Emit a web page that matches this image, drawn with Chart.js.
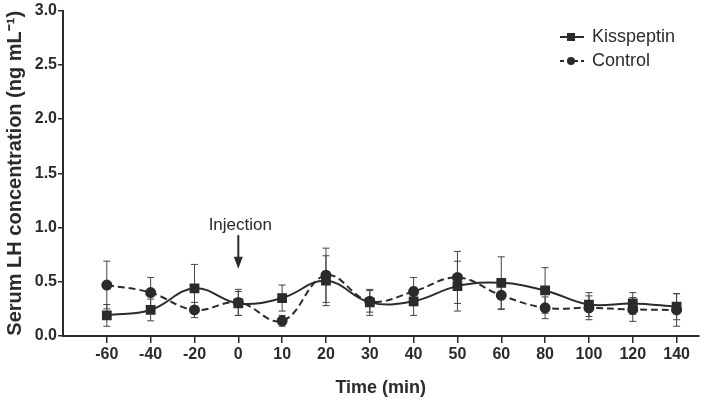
<!DOCTYPE html>
<html>
<head>
<meta charset="utf-8">
<script src="https://cdn.jsdelivr.net/npm/chart.js@4"></script>
<style>
  html, body { margin: 0; padding: 0; background: #fff; }
  #wrap { width: 706px; height: 404px; }
</style>
</head>
<body>
<div id="wrap"><canvas id="lhChart" width="706" height="404"></canvas></div>
<script>
const timeLabels = ["-60", "-40", "-20", "0", "10", "20", "30", "40", "50", "60", "80", "100", "120", "140"];
const kisspeptin = [0.19, 0.24, 0.44, 0.30, 0.35, 0.51, 0.31, 0.32, 0.46, 0.49, 0.42, 0.29, 0.30, 0.27];
const kisspeptinErr = [0.10, 0.10, 0.22, 0.11, 0.12, 0.23, 0.12, 0.13, 0.23, 0.24, 0.21, 0.11, 0.10, 0.12];
const control = [0.47, 0.40, 0.24, 0.31, 0.14, 0.56, 0.32, 0.41, 0.54, 0.375, 0.26, 0.26, 0.245, 0.24];
const controlErr = [0.22, 0.14, 0.07, 0.12, 0.05, 0.25, 0.10, 0.13, 0.24, 0.13, 0.10, 0.11, 0.11, 0.15];
const yTicks = [0, 0.5, 1.0, 1.5, 2.0, 2.5, 3.0];

const ink = "#2b2b2b";
const font = "'Liberation Sans', Arial, sans-serif";

// error bars drawn through the chart scales
const errorBars = {
    id: "errorBars",
    beforeDatasetsDraw(chart) {
        const ctx = chart.ctx;
        const x = chart.scales.x;
        const y = chart.scales.y;
        const sets = [[kisspeptin, kisspeptinErr], [control, controlErr]];
        ctx.save();
        ctx.strokeStyle = "#444";
        ctx.lineWidth = 1;
        sets.forEach(([vals, errs]) => {
            vals.forEach((v, i) => {
                const px = x.getPixelForValue(i);
                const top = y.getPixelForValue(v + errs[i]);
                const bot = y.getPixelForValue(Math.max(0, v - errs[i]));
                ctx.beginPath();
                ctx.moveTo(px, top);
                ctx.lineTo(px, bot);
                ctx.moveTo(px - 3.5, top);
                ctx.lineTo(px + 3.5, top);
                ctx.moveTo(px - 3.5, bot);
                ctx.lineTo(px + 3.5, bot);
                ctx.stroke();
            });
        });
        ctx.restore();
    },
    afterDraw(chart) {
        const ctx = chart.ctx;
        const x = chart.scales.x;
        const y = chart.scales.y;
        ctx.save();
        // injection arrow at time 0
        const ax = x.getPixelForValue(3);
        ctx.fillStyle = ink;
        ctx.strokeStyle = ink;
        ctx.font = "17px " + font;
        ctx.textAlign = "center";
        ctx.textBaseline = "middle";
        ctx.fillText("Injection", ax + 2, y.getPixelForValue(1.02));
        ctx.lineWidth = 2;
        ctx.beginPath();
        ctx.moveTo(ax, y.getPixelForValue(0.93));
        ctx.lineTo(ax, y.getPixelForValue(0.70));
        ctx.stroke();
        const tip = y.getPixelForValue(0.62);
        ctx.beginPath();
        ctx.moveTo(ax, tip);
        ctx.lineTo(ax - 4.5, tip - 12);
        ctx.lineTo(ax + 4.5, tip - 12);
        ctx.closePath();
        ctx.fill();

        // legend
        const items = [
            { label: "Kisspeptin", dash: [], shape: "square", yPos: 37 },
            { label: "Control", dash: [4, 3], shape: "circle", yPos: 61 }
        ];
        items.forEach(it => {
            ctx.setLineDash(it.dash);
            ctx.lineWidth = 2;
            ctx.beginPath();
            ctx.moveTo(560, it.yPos);
            ctx.lineTo(584, it.yPos);
            ctx.stroke();
            ctx.setLineDash([]);
            if (it.shape === "square") {
                ctx.fillRect(567, it.yPos - 4, 8, 8);
            } else {
                ctx.beginPath();
                ctx.arc(571, it.yPos, 4, 0, Math.PI * 2);
                ctx.fill();
            }
            ctx.textAlign = "left";
            ctx.font = "18px " + font;
            ctx.fillText(it.label, 592, it.yPos);
        });
        ctx.restore();
    }
};

new Chart(document.getElementById("lhChart"), {
    type: "line",
    data: {
        datasets: [
            {
                label: "Kisspeptin",
                data: kisspeptin.map((v, i) => ({ x: i, y: v })),
                borderColor: ink,
                backgroundColor: ink,
                borderWidth: 2,
                tension: 0.4,
                pointStyle: "rect",
                pointRadius: 5.5,
                pointHoverRadius: 5.5
            },
            {
                label: "Control",
                data: control.map((v, i) => ({ x: i, y: v })),
                borderColor: ink,
                backgroundColor: ink,
                borderWidth: 2,
                borderDash: [7, 4],
                tension: 0.4,
                pointStyle: "circle",
                pointRadius: 4.5,
                pointHoverRadius: 4.5
            }
        ]
    },
    options: {
        responsive: false,
        animation: false,
        events: [],
        layout: { padding: { top: 8, right: 6, left: 0, bottom: 0 } },
        plugins: {
            legend: { display: false },
            tooltip: { enabled: false }
        },
        scales: {
            x: {
                type: "linear",
                min: -1,
                max: 13.5,
                afterBuildTicks: scale => {
                    scale.ticks = timeLabels.map((_, i) => ({ value: i }));
                },
                afterFit: scale => { scale.height = 68; },
                border: { color: ink, width: 2 },
                grid: { drawOnChartArea: false, color: ink, tickLength: 7, lineWidth: 1.5 },
                ticks: {
                    color: ink,
                    font: { family: font, size: 16, weight: "bold" },
                    maxRotation: 0,
                    padding: 2,
                    callback: v => timeLabels[v]
                },
                title: {
                    display: true,
                    text: "Time (min)",
                    color: ink,
                    font: { family: font, size: 18, weight: "bold" },
                    padding: { top: 12, bottom: 5 }
                }
            },
            y: {
                min: 0,
                max: 3,
                afterBuildTicks: scale => {
                    scale.ticks = yTicks.map(v => ({ value: v }));
                },
                afterFit: scale => { scale.width = 63; },
                border: { color: ink, width: 2 },
                grid: { drawOnChartArea: false, color: ink, tickLength: 5, lineWidth: 1.5 },
                ticks: {
                    color: ink,
                    font: { family: font, size: 16, weight: "bold" },
                    padding: 1,
                    callback: v => v.toFixed(1)
                },
                title: {
                    display: true,
                    text: "Serum LH concentration (ng mL\u207B\u00B9)",
                    color: ink,
                    font: { family: font, size: 20, weight: "bold" },
                    padding: { top: 3, bottom: 3 }
                }
            }
        }
    },
    plugins: [errorBars]
});
</script>
</body>
</html>
